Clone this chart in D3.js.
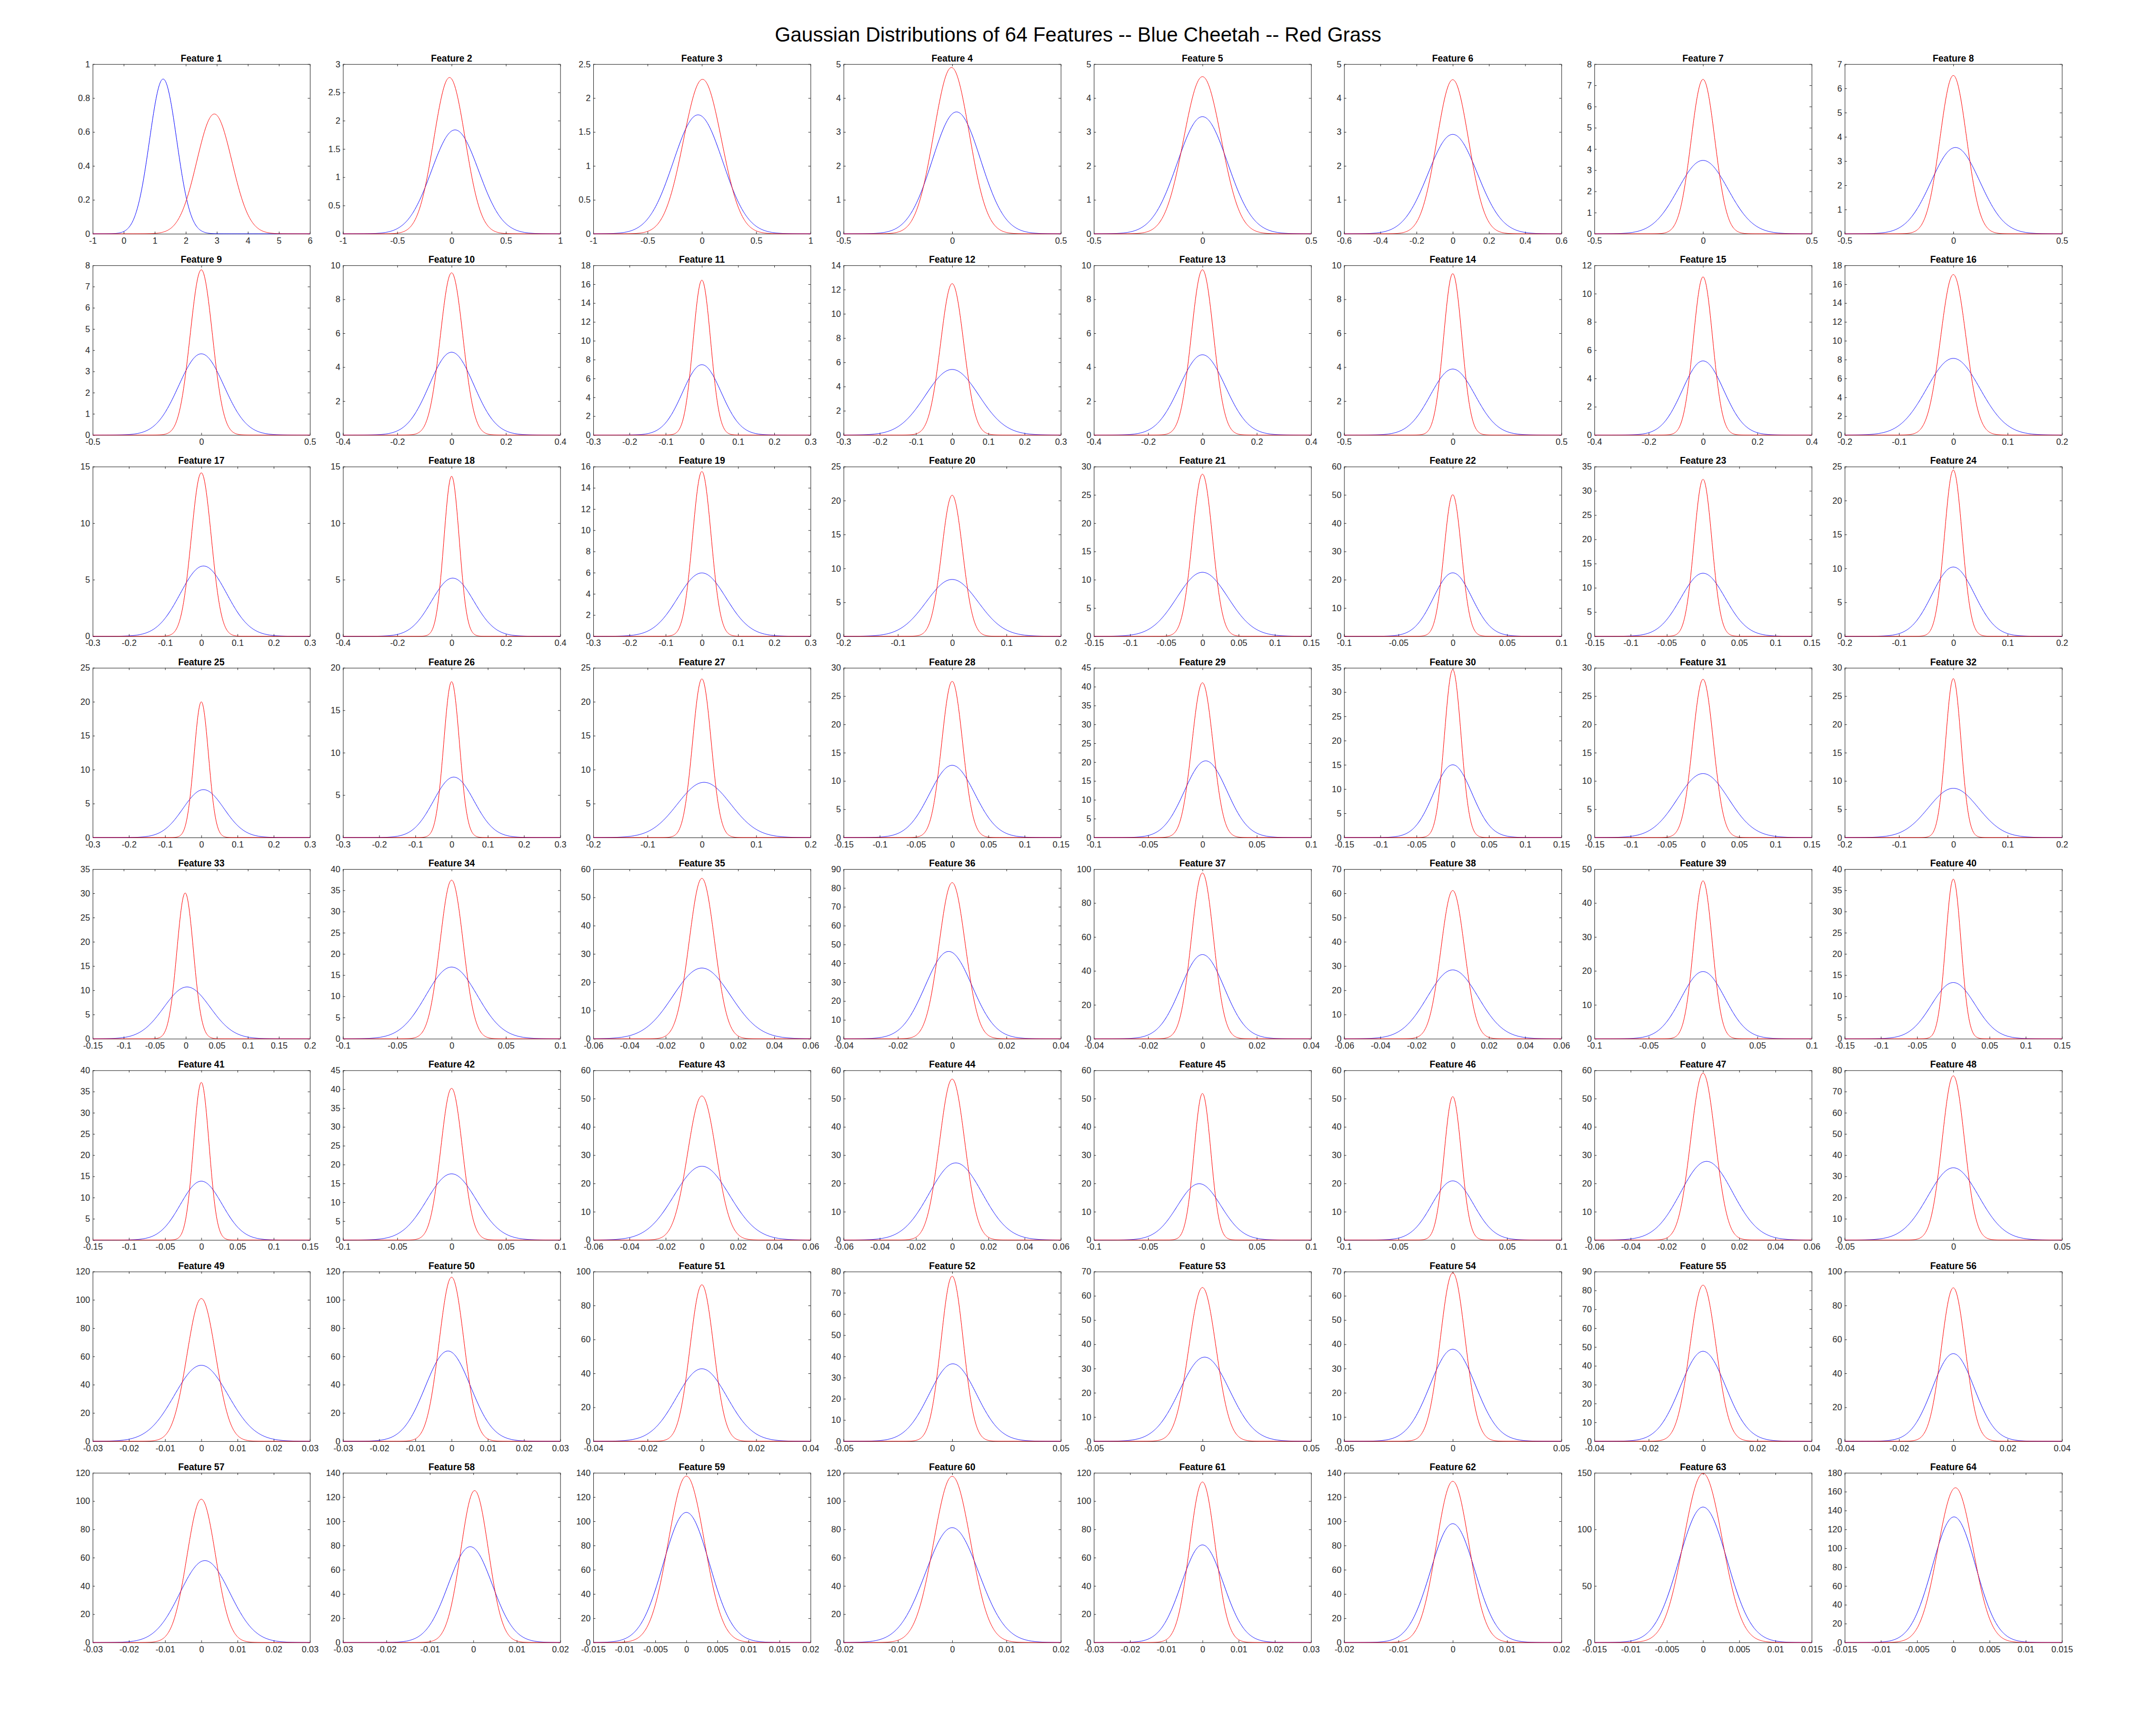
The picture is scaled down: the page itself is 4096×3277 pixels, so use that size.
<!DOCTYPE html>
<html>
<head>
<meta charset="utf-8">
<script src="https://cdn.jsdelivr.net/npm/d3@7"></script>
<style>
html, body { margin: 0; padding: 0; background: #ffffff; }
svg { display: block; }
</style>
</head>
<body>
<script>
// ---------------- DATA ----------------
const chartTitle = "Gaussian Distributions of 64 Features -- Blue Cheetah -- Red Grass";
const featureNames = d3.range(1, 65).map(i => "Feature " + i);

// x-axis limits and tick step per feature
const xMin = [-1,-1,-1,-0.5,-0.5,-0.6,-0.5,-0.5,
  -0.5,-0.4,-0.3,-0.3,-0.4,-0.5,-0.4,-0.2,
  -0.3,-0.4,-0.3,-0.2,-0.15,-0.1,-0.15,-0.2,
  -0.3,-0.3,-0.2,-0.15,-0.1,-0.15,-0.15,-0.2,
  -0.15,-0.1,-0.06,-0.04,-0.04,-0.06,-0.1,-0.15,
  -0.15,-0.1,-0.06,-0.06,-0.1,-0.1,-0.06,-0.05,
  -0.03,-0.03,-0.04,-0.05,-0.05,-0.05,-0.04,-0.04,
  -0.03,-0.03,-0.015,-0.02,-0.03,-0.02,-0.015,-0.015];
const xMax = [6,1,1,0.5,0.5,0.6,0.5,0.5,
  0.5,0.4,0.3,0.3,0.4,0.5,0.4,0.2,
  0.3,0.4,0.3,0.2,0.15,0.1,0.15,0.2,
  0.3,0.3,0.2,0.15,0.1,0.15,0.15,0.2,
  0.2,0.1,0.06,0.04,0.04,0.06,0.1,0.15,
  0.15,0.1,0.06,0.06,0.1,0.1,0.06,0.05,
  0.03,0.03,0.04,0.05,0.05,0.05,0.04,0.04,
  0.03,0.02,0.02,0.02,0.03,0.02,0.015,0.015];
const xStep = [1,0.5,0.5,0.5,0.5,0.2,0.5,0.5,
  0.5,0.2,0.1,0.1,0.2,0.5,0.2,0.1,
  0.1,0.2,0.1,0.1,0.05,0.05,0.05,0.1,
  0.1,0.1,0.1,0.05,0.05,0.05,0.05,0.1,
  0.05,0.05,0.02,0.02,0.02,0.02,0.05,0.05,
  0.05,0.05,0.02,0.02,0.05,0.05,0.02,0.05,
  0.01,0.01,0.02,0.05,0.05,0.05,0.02,0.02,
  0.01,0.01,0.005,0.01,0.01,0.01,0.005,0.005];

// y-axis upper limit and tick step per feature
const yMax = [1,3,2.5,5,5,5,8,7,
  8,10,18,14,10,10,12,18,
  15,15,16,25,30,60,35,25,
  25,20,25,30,45,35,30,30,
  35,40,60,90,100,70,50,40,
  40,45,60,60,60,60,60,80,
  120,120,100,80,70,70,90,100,
  120,140,140,120,120,140,150,180];
const yStep = [0.2,0.5,0.5,1,1,1,1,1,
  1,2,2,2,2,2,2,2,
  5,5,2,5,5,10,5,5,
  5,5,5,5,5,5,5,5,
  5,5,10,10,20,10,10,5,
  5,5,10,10,10,10,10,10,
  20,20,20,10,10,10,10,20,
  20,20,20,20,20,20,50,20];

// Cheetah (blue) Gaussian parameters
const cheetahMean = [1.27,0.032,-0.035,0.02,0,0,0,0.01,
  0,0,0,0,0,0,0,0,
  0.006,0.004,0,0,0,0,0,0,
  0.006,0.006,0.004,0,0.003,0,0,0,
  0.002,0,0,-0.0013,0,0,0,0,
  0,0,0,0.002,-0.003,0,0.002,0,
  0,-0.001,0,0.0003,0.001,0,0,0,
  0.001,-0.0007,0,0,0,0,0,0.0001];
const cheetahStd = [0.4374,0.2172,0.2277,0.1111,0.1156,0.1362,0.1153,0.1121,
  0.1042,0.08175,0.05348,0.07374,0.08434,0.1026,0.07613,0.04907,
  0.06424,0.07761,0.06682,0.04766,0.03527,0.01779,0.03069,0.03911,
  0.05659,0.05603,0.04907,0.03126,0.01963,0.02660,0.03530,0.04586,
  0.03735,0.02361,0.01596,0.008616,0.008043,0.01405,0.02015,0.03011,
  0.02878,0.02274,0.01530,0.01464,0.02005,0.01909,0.01435,0.01172,
  0.007429,0.006253,0.009343,0.01093,0.01150,0.01051,0.008364,0.007731,
  0.006890,0.005050,0.003718,0.004913,0.005782,0.004071,0.003333,0.002995];

// Grass (red) Gaussian parameters
const grassMean = [2.92,-0.019,0.006,-0.003,0,0,0,0,
  0,0,0,0,0,0,0,0,
  0,0,0,0,0,0,0,0,
  0,0,0,0,0,0,0,0,
  -0.001,0,0,0,0,0,0,0,
  0,0,0,0,0,0,0,0,
  0,0,0,0,0,0,0,0,
  0,0.0003,0,0,0,0,0,0.0003];
const grassStd = [0.5651,0.1444,0.1753,0.08142,0.08616,0.08787,0.05480,0.06109,
  0.05121,0.04173,0.02428,0.03194,0.04096,0.04195,0.03568,0.02344,
  0.02761,0.02821,0.02567,0.01920,0.01392,0.007969,0.01232,0.01629,
  0.01996,0.02172,0.01707,0.01445,0.009721,0.01152,0.01426,0.01420,
  0.01327,0.01067,0.007034,0.004818,0.004083,0.006524,0.008574,0.01060,
  0.01074,0.009919,0.007833,0.007011,0.007702,0.007869,0.006762,0.005154,
  0.003954,0.003439,0.004327,0.005128,0.006292,0.005740,0.004818,0.004413,
  0.003938,0.003184,0.002906,0.003395,0.003515,0.003000,0.002669,0.002431];

// ---------------- LAYOUT ----------------
const W = 4096, H = 3277;
const nCols = 8;
const axLeft0 = 176.1, axStepX = 475.5, axW = 412.7;
const axTop0 = 121.8, axStepY = 382.3, axH = 322.3;
const tickLen = 4.1;
const axisColor = "#262626";
const fontFam = "'Liberation Sans', Arial, Helvetica, sans-serif";
const tickFont = 16.4;
const subTitleFont = 17.6;

const svg = d3.select("body").append("svg")
  .attr("width", W).attr("height", H)
  .attr("viewBox", `0 0 ${W} ${H}`);

svg.append("rect").attr("width", W).attr("height", H).attr("fill", "#ffffff");

svg.append("text")
  .attr("x", W / 2).attr("y", 79)
  .attr("text-anchor", "middle")
  .attr("font-family", fontFam)
  .attr("font-size", 38.4)
  .attr("fill", "#000000")
  .text(chartTitle);

const fmt = v => String(+v.toFixed(6));
const gauss = (x, m, s) => Math.exp(-0.5 * ((x - m) / s) ** 2) / (s * Math.sqrt(2 * Math.PI));

featureNames.forEach((name, i) => {
  const col = i % nCols, row = Math.floor(i / nCols);
  const left = axLeft0 + col * axStepX;
  const top = axTop0 + row * axStepY;
  const g = svg.append("g").attr("transform", `translate(${left},${top})`);

  const x = d3.scaleLinear().domain([xMin[i], xMax[i]]).range([0, axW]);
  const y = d3.scaleLinear().domain([0, yMax[i]]).range([axH, 0]);

  const nx = Math.round((xMax[i] - xMin[i]) / xStep[i]);
  const xt = d3.range(nx + 1).map(k => +(xMin[i] + k * xStep[i]).toFixed(8));
  const ny = Math.round(yMax[i] / yStep[i]);
  const yt = d3.range(ny + 1).map(k => +(k * yStep[i]).toFixed(8));

  // curves
  const xs = d3.range(0, 601).map(k => xMin[i] + (xMax[i] - xMin[i]) * k / 600);
  const line = d3.line().x(d => x(d[0])).y(d => y(d[1]));
  const series = [
    { m: cheetahMean[i], s: cheetahStd[i], c: "#0000ff" },
    { m: grassMean[i], s: grassStd[i], c: "#ff0000" }
  ];

  // axes
  const styleAxis = sel => {
    sel.selectAll("path.domain").attr("stroke", axisColor).attr("stroke-width", 1);
    sel.selectAll(".tick line").attr("stroke", axisColor).attr("stroke-width", 1);
    sel.selectAll(".tick text").attr("fill", axisColor)
      .attr("font-family", fontFam).attr("font-size", tickFont);
  };

  g.append("g").attr("transform", `translate(0,${axH})`)
    .call(d3.axisBottom(x).tickValues(xt).tickFormat(fmt).tickSizeInner(-tickLen).tickSizeOuter(0).tickPadding(7))
    .call(styleAxis);
  g.append("g")
    .call(d3.axisTop(x).tickValues(xt).tickFormat("").tickSizeInner(-tickLen).tickSizeOuter(0))
    .call(styleAxis);
  g.append("g")
    .call(d3.axisLeft(y).tickValues(yt).tickFormat(fmt).tickSizeInner(-tickLen).tickSizeOuter(0).tickPadding(5))
    .call(styleAxis);
  g.append("g").attr("transform", `translate(${axW},0)`)
    .call(d3.axisRight(y).tickValues(yt).tickFormat("").tickSizeInner(-tickLen).tickSizeOuter(0))
    .call(styleAxis);

  series.forEach(sr => {
    g.append("path")
      .datum(xs.map(v => [v, gauss(v, sr.m, sr.s)]))
      .attr("fill", "none")
      .attr("stroke", sr.c)
      .attr("stroke-width", 1)
      .attr("d", line);
  });

  g.append("text")
    .attr("x", axW / 2).attr("y", -5)
    .attr("text-anchor", "middle")
    .attr("font-family", fontFam)
    .attr("font-weight", "bold")
    .attr("font-size", subTitleFont)
    .attr("fill", "#000000")
    .text(name);
});
</script>
</body>
</html>
